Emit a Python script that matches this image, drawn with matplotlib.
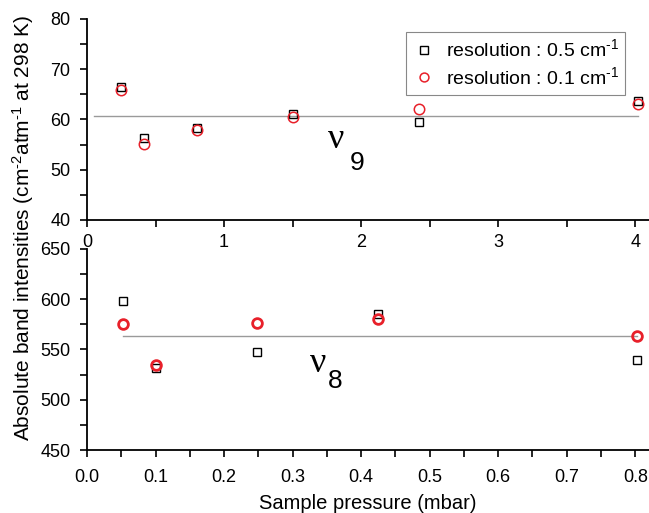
import matplotlib
matplotlib.use("Agg")
import matplotlib.pyplot as plt
from matplotlib.ticker import MultipleLocator, FormatStrFormatter

plt.rcParams["font.family"] = ["Liberation Sans", "DejaVu Sans"]
plt.rcParams["mathtext.default"] = "regular"

# nu9 band (top panel), pressure in mbar
p9 = [0.245, 0.415, 0.80, 1.50, 2.42, 4.02]
nu9_res05 = [66.5, 56.3, 58.3, 61.1, 59.5, 63.7]
nu9_res01 = [65.9, 55.1, 57.9, 60.4, 62.0, 63.0]
nu9_mean = 60.7
nu9_span = [0.05, 4.02]

# nu8 band (bottom panel)
p8 = [0.0525, 0.1005, 0.248, 0.424, 0.803]
nu8_res05 = [598, 532, 547, 585, 540]
nu8_res01 = [575, 535, 576, 580, 563]
nu8_mean = 563.4
nu8_span = [0.053, 0.803]

fig = plt.figure(figsize=(6.49, 5.13), dpi=100)
ax1 = fig.add_axes([0.134, 0.5712, 0.866, 0.392])
ax2 = fig.add_axes([0.134, 0.1228, 0.866, 0.392])

sq = dict(marker="s", ms=6, mfc="none", mec="black", mew=1.0, ls="none")
ci = dict(marker="o", ms=7.5, mfc="none", mec="#e8202a", mew=1.1, ls="none")

ax1.plot(nu9_span, [nu9_mean, nu9_mean], color="#9a9a9a", lw=1.0)
ax1.plot(p9, nu9_res05, label="resolution : 0.5 cm$^{\u2010 1}$", **sq)
ax1.plot(p9, nu9_res01, label="resolution : 0.1 cm$^{\u2010 1}$", **ci)

ax2.plot(nu8_span, [nu8_mean, nu8_mean], color="#9a9a9a", lw=1.0)
ax2.plot(p8, nu8_res05, **sq)
ax2.plot(p8, nu8_res01, **dict(ci, mew=2.0, ms=7))

ax1.set_xlim(0, 4.1)
ax1.set_ylim(40, 80)
ax2.set_xlim(0, 0.82)
ax2.set_ylim(450, 650)

ax1.xaxis.set_major_locator(MultipleLocator(1))
ax1.xaxis.set_minor_locator(MultipleLocator(0.5))
ax1.yaxis.set_major_locator(MultipleLocator(10))
ax1.yaxis.set_minor_locator(MultipleLocator(5))
ax2.xaxis.set_major_locator(MultipleLocator(0.1))
ax2.xaxis.set_minor_locator(MultipleLocator(0.05))
ax2.xaxis.set_major_formatter(FormatStrFormatter("%.1f"))
ax2.yaxis.set_major_locator(MultipleLocator(50))
ax2.yaxis.set_minor_locator(MultipleLocator(25))

for ax in (ax1, ax2):
    for s in ("top", "right"):
        ax.spines[s].set_visible(False)
    for s in ("left", "bottom"):
        ax.spines[s].set_linewidth(1.3)
    ax.tick_params(which="both", direction="out", length=5, width=1.2,
                   labelsize=13, colors="black")
    ax.tick_params(axis="y", pad=7)

ax1.tick_params(axis="x", pad=5)
ax2.tick_params(axis="x", pad=8.5)

ax1.text(1.76, 54.4, "\u03bd", family="Liberation Serif", fontsize=26, va="baseline")
ax1.text(1.92, 50.0, "9", fontsize=19, va="baseline")
ax2.text(0.325, 527.6, "\u03bd", family="Liberation Serif", fontsize=26, va="baseline")
ax2.text(0.351, 511.7, "8", fontsize=19, va="baseline")

leg = ax1.legend(loc="upper right", bbox_to_anchor=(0.975, 0.985), fontsize=14,
                 fancybox=False, framealpha=1, edgecolor="#888888",
                 handletextpad=0.5, handlelength=1.2, borderpad=0.35,
                 labelspacing=0.3, markerscale=0.85)
leg.get_frame().set_linewidth(0.8)

fig.text(0.036, 0.556, "Absolute band intensities (cm$^{\u2010 2}$atm$^{\u2010 1}$ at 298 K)",
         rotation=90, ha="center", va="center", fontsize=15)
fig.text(0.567, 0.008, "Sample pressure (mbar)", ha="center", va="baseline", fontsize=14.5)

fig.savefig("out.png", dpi=100)
